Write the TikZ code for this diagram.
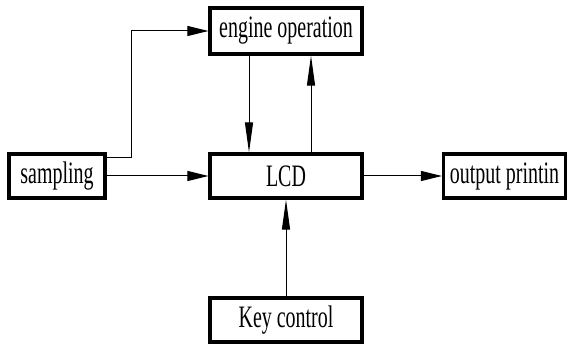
\documentclass[tikz,border=0pt]{standalone}
\usepackage{fontspec}
\setmainfont{Liberation Serif}[FakeStretch=0.64]
\usepackage{tikz}
\usetikzlibrary{arrows.meta}
\tikzset{
  blk/.style={draw,line width=1.6pt,inner sep=0pt,minimum height=22pt,font=\fontsize{15.6}{18}\selectfont},
  hflow/.style={line width=0.5pt,-{Triangle[length=10.5pt,width=5pt]}},
  vflow/.style={line width=0.5pt,-{Triangle[length=15pt,width=4pt]}}
}

\begin{document}
\begin{tikzpicture}[x=0.5pt,y=0.5pt]
\useasboundingbox (0,0) rectangle (568,343);
\node[blk,minimum width=76pt,minimum height=23pt] (engine) at (286,312) {engine operation};
\node[blk,minimum width=76pt] (lcd) at (286,167) {LCD};
\node[blk,minimum width=48pt] (sampling) at (57,167) {sampling};
\node[blk,minimum width=61pt] (output) at (504.5,167) {output printin};
\node[blk,minimum width=76pt] (key) at (286,23) {Key control};
\draw[hflow] ([yshift=9pt]sampling.east) -- ++(25,0) |- (engine.west);
\draw[hflow] (sampling.east) -- (lcd.west);
\draw[vflow] ([xshift=-18.5pt]engine.south) -- ([xshift=-18.5pt]lcd.north);
\draw[vflow] ([xshift=12.5pt]lcd.north) -- ([xshift=12.5pt]engine.south);
\draw[hflow] (lcd.east) -- (output.west);
\draw[vflow] (key.north) -- (lcd.south);
\end{tikzpicture}
\end{document}
